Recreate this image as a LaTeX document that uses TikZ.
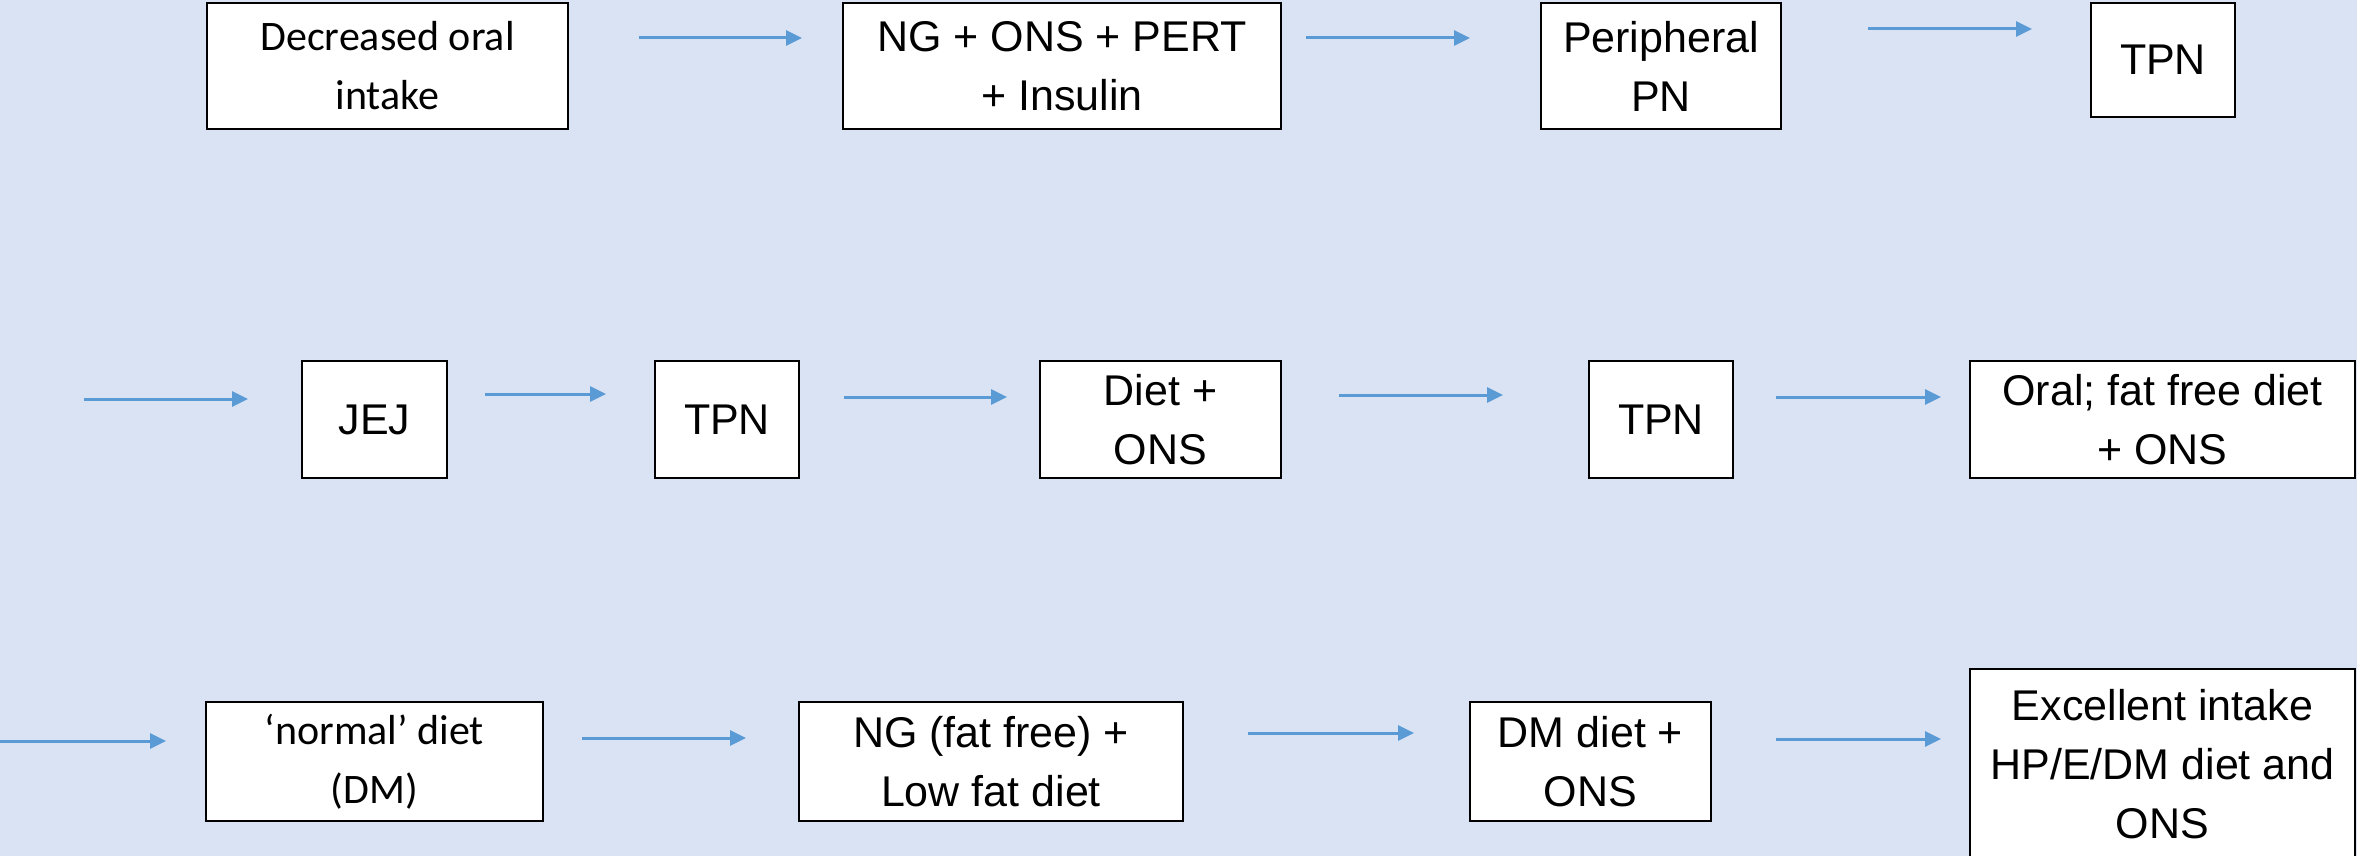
\documentclass[tikz,border=0pt]{standalone}
\usepackage{fontspec}
\setmainfont{Liberation Sans}
\newfontfamily\calib{Carlito}
\usetikzlibrary{arrows.meta}
\definecolor{bgblue}{RGB}{218,227,243}
\definecolor{arrblue}{RGB}{91,155,213}
\tikzset{
  box/.style={draw=black, line width=2pt, fill=white, inner sep=0pt, align=center,
    font=\fontsize{43}{59}\selectfont},
  cbox/.style={box, font=\calib\fontsize{42}{59}\selectfont},
  flow/.style={draw=arrblue, line width=3pt, -{Triangle[length=16pt,width=15pt]}}
}
\begin{document}
\begin{tikzpicture}[x=1pt,y=-1pt]
\useasboundingbox (0,0) rectangle (2357,856);
\clip (0,0) rectangle (2357,856);
\fill[bgblue] (0,0) rectangle (2357,856);
% row 1
\node[cbox, minimum width=361pt, minimum height=126pt] (a1) at (387.5,66) {Decreased oral\\intake};
\node[box, minimum width=438pt, minimum height=126pt] (a2) at (1062,66) {NG + ONS + PERT\\+ Insulin};
\node[box, minimum width=240pt, minimum height=126pt] (a3) at (1661,66) {Peripheral\\PN};
\node[box, minimum width=144pt, minimum height=114pt] (a4) at (2163,60) {TPN};
% row 2
\node[box, minimum width=145pt, minimum height=117pt] (b1) at (374.5,419.5) {JEJ};
\node[box, minimum width=144pt, minimum height=117pt] (b2) at (727,419.5) {TPN};
\node[box, minimum width=241pt, minimum height=117pt] (b3) at (1160.5,419.5) {Diet +\\ONS};
\node[box, minimum width=144pt, minimum height=117pt] (b4) at (1661,419.5) {TPN};
\node[box, minimum width=385pt, minimum height=117pt] (b5) at (2162.5,419.5) {Oral; fat free diet\\+ ONS};
% row 3
\node[cbox, minimum width=337pt, minimum height=119pt] (c1) at (374.5,761.5) {‘normal’ diet\\(DM)};
\node[box, minimum width=384pt, minimum height=119pt] (c2) at (991,761.5) {NG (fat free) +\\Low fat diet};
\node[box, minimum width=241pt, minimum height=119pt] (c3) at (1590.5,761.5) {DM diet +\\ONS};
\node[box, minimum width=385pt, minimum height=190pt] (c4) at (2162.5,764) {Excellent intake\\HP/E/DM diet and\\ONS};
% arrow end points
\coordinate (p1s) at (639,38);  \coordinate (p1e) at (802,38);
\coordinate (p2s) at (1306,38); \coordinate (p2e) at (1470,38);
\coordinate (p3s) at (1868,29); \coordinate (p3e) at (2032,29);
\coordinate (q0s) at (84,399);  \coordinate (q0e) at (248,399);
\coordinate (q1s) at (485,394); \coordinate (q1e) at (606,394);
\coordinate (q2s) at (844,397); \coordinate (q2e) at (1007,397);
\coordinate (q3s) at (1339,395); \coordinate (q3e) at (1503,395);
\coordinate (q4s) at (1776,397); \coordinate (q4e) at (1941,397);
\coordinate (r0s) at (0,741);   \coordinate (r0e) at (166,741);
\coordinate (r1s) at (582,738); \coordinate (r1e) at (746,738);
\coordinate (r2s) at (1248,733); \coordinate (r2e) at (1414,733);
\coordinate (r3s) at (1776,739); \coordinate (r3e) at (1941,739);
\foreach \s in {p1,p2,p3,q0,q1,q2,q3,q4,r0,r1,r2,r3}
  \draw[flow] (\s s) -- (\s e);
\end{tikzpicture}
\end{document}
